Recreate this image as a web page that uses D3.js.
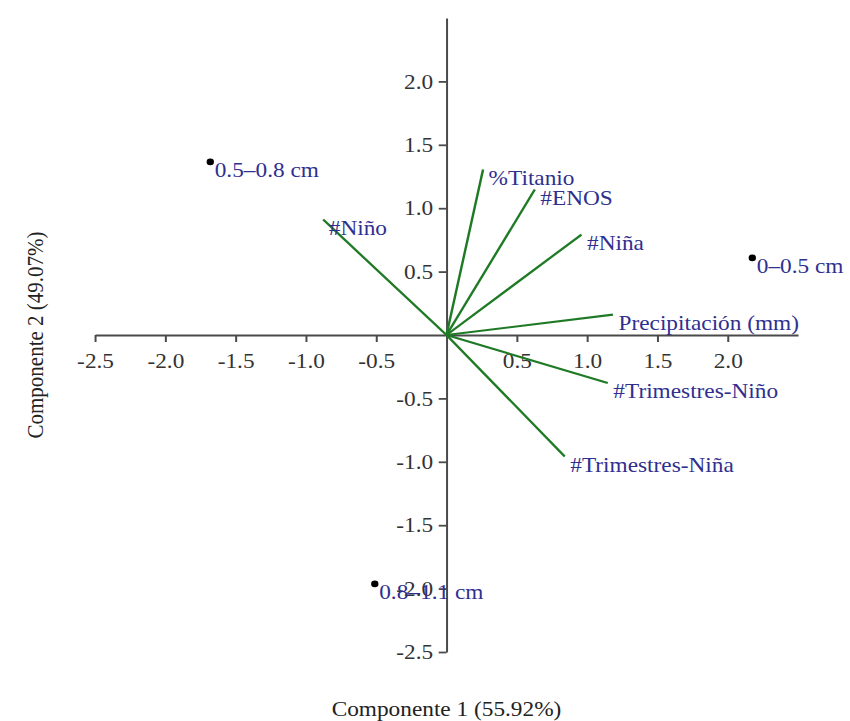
<!doctype html>
<html>
  <head>
    <meta charset="utf-8">
    <title>Biplot componentes</title>
    <script src="https://cdnjs.cloudflare.com/ajax/libs/d3/7.8.5/d3.min.js"></script>
    <style>
      body { margin: 0; background: #fff; }
      svg text { font-family: "Liberation Serif", "Times New Roman", serif; }
      .axis path, .axis line { stroke: #4a4a4a; stroke-width: 1.8; }
      .axis text { fill: #333; font-size: 21px; }
    </style>
  </head>
  <body>
    <div id="chart"></div>
    <script>
      // samples (scores)
      const sampleNames = ['0.5–0.8 cm', '0–0.5 cm', '0.8–1.1 cm'];
      const sampleX = [-1.68, 2.175, -0.51];
      const sampleY = [1.365, 0.608, -1.963];

      // variables (loadings)
      const varNames = ['%Titanio', '#ENOS', '#Niña', '#Niño', 'Precipitación (mm)', '#Trimestres-Niño', '#Trimestres-Niña'];
      const varX = [0.26, 0.628, 0.96, -0.877, 1.184, 1.147, 0.841];
      const varY = [1.305, 1.147, 0.792, 0.91, 0.16, -0.379, -0.958];

      const xTicks = [-2.5, -2.0, -1.5, -1.0, -0.5, 0.5, 1.0, 1.5, 2.0];
      const yTicks = [-2.5, -2.0, -1.5, -1.0, -0.5, 0.5, 1.0, 1.5, 2.0];

      const width = 850, height = 721;
      const margin = {top: 18, right: 52, bottom: 69, left: 95};
      // the picture is a little wider than tall, so everything is stretched sideways
      const sx = 1.11;

      const svg = d3.select('#chart')
        .append('svg')
        .attr('width', width)
        .attr('height', height);

      const g = svg.append('g').attr('transform', `scale(${sx},1)`);

      const x = d3.scaleLinear().domain([-2.5, 2.5]).range([margin.left / sx, (width - margin.right) / sx]);
      const y = d3.scaleLinear().domain([-2.5, 2.5]).range([height - margin.bottom, margin.top]);

      const fmt = d => d.toFixed(1);

      // axes through the origin
      g.append('g')
        .attr('class', 'axis')
        .attr('transform', `translate(0,${y(0)})`)
        .call(d3.axisBottom(x).tickValues(xTicks).tickFormat(fmt).tickSize(7).tickPadding(11).tickSizeOuter(0));

      g.append('g')
        .attr('class', 'axis')
        .attr('transform', `translate(${x(0)},0)`)
        .call(d3.axisLeft(y).tickValues(yTicks).tickFormat(fmt).tickSize(7).tickPadding(5).tickSizeOuter(0));

      g.selectAll('.axis path').attr('fill', 'none');

      // axis titles
      g.append('text')
        .attr('x', x(0))
        .attr('y', height - 5)
        .attr('text-anchor', 'middle')
        .style('font-size', '21px')
        .attr('fill', '#222')
        .text('Componente 1 (55.92%)');

      g.append('text')
        .attr('transform', `translate(${43 / sx},${y(0)}) rotate(-90)`)
        .attr('text-anchor', 'middle')
        .style('font-size', '21px')
        .attr('fill', '#222')
        .text('Componente 2 (49.07%)');

      // loading vectors
      const vars = varNames.map((n, i) => ({name: n, x: varX[i], y: varY[i]}));

      g.selectAll('line.vec')
        .data(vars)
        .join('line')
        .attr('class', 'vec')
        .attr('x1', x(0))
        .attr('y1', y(0))
        .attr('x2', d => x(d.x))
        .attr('y2', d => y(d.y))
        .attr('stroke', '#1f7a25')
        .attr('stroke-width', 2.2);

      g.selectAll('text.vec')
        .data(vars)
        .join('text')
        .attr('class', 'vec')
        .attr('x', d => x(d.x) + 5)
        .attr('y', d => y(d.y))
        .attr('dy', '0.72em')
        .style('font-size', '21px')
        .attr('fill', '#2f2f8f')
        .text(d => d.name);

      // sample points
      const samples = sampleNames.map((n, i) => ({name: n, x: sampleX[i], y: sampleY[i]}));

      g.selectAll('circle.pt')
        .data(samples)
        .join('circle')
        .attr('class', 'pt')
        .attr('cx', d => x(d.x))
        .attr('cy', d => y(d.y))
        .attr('r', 3.3)
        .attr('fill', '#000');

      g.selectAll('text.pt')
        .data(samples)
        .join('text')
        .attr('class', 'pt')
        .attr('x', d => x(d.x) + 4)
        .attr('y', d => y(d.y))
        .attr('dy', '0.72em')
        .style('font-size', '21px')
        .attr('fill', '#2f2f8f')
        .text(d => d.name);
    </script>
  </body>
</html>
